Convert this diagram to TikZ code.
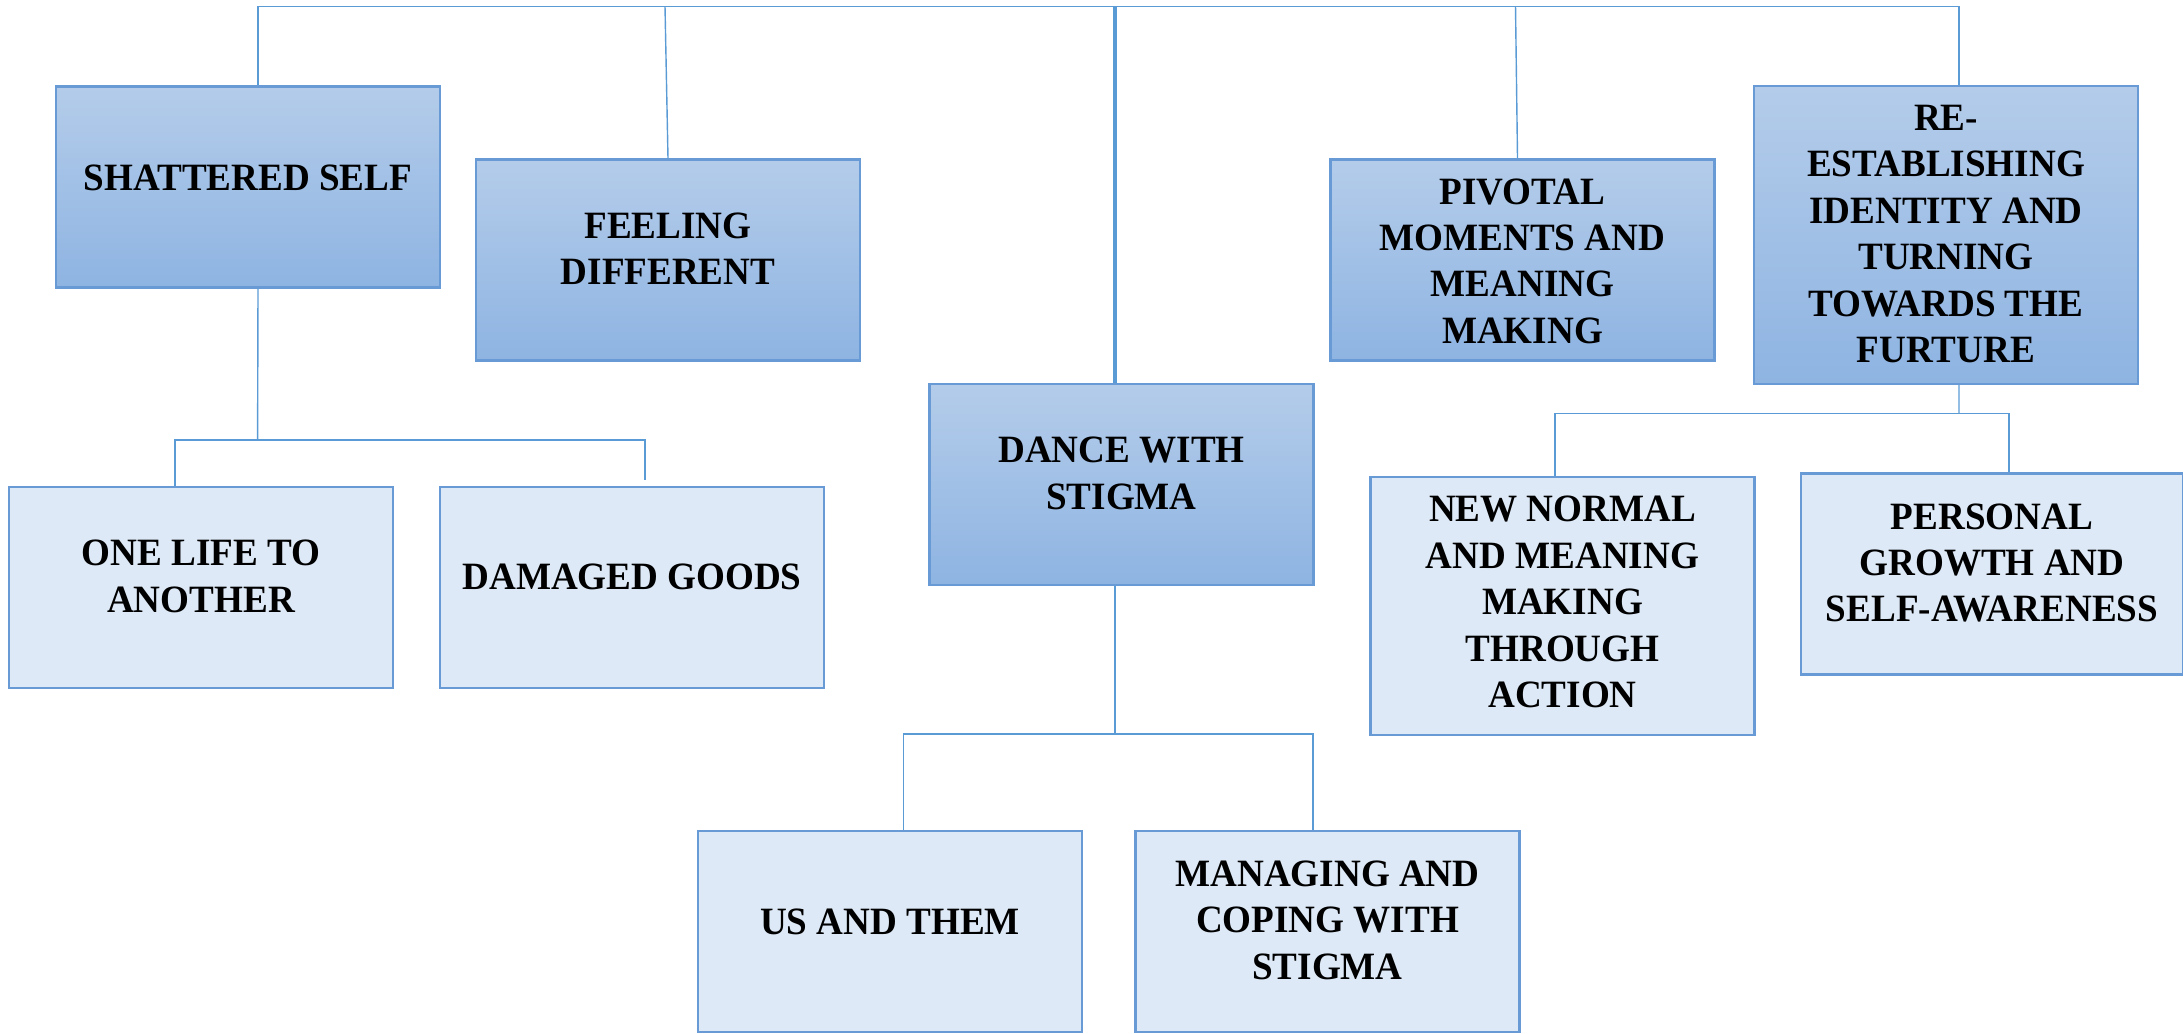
\documentclass[tikz,border=0pt]{standalone}
\usepackage{fontspec}
\setmainfont{Liberation Serif}[FakeStretch=0.96]
\definecolor{boxtop}{RGB}{180,204,234}
\definecolor{boxbot}{RGB}{142,180,226}
\definecolor{boxlight}{RGB}{221,233,246}
\definecolor{boxedge}{RGB}{104,155,214}
\definecolor{linkblue}{RGB}{91,155,213}
\begin{document}
\begin{tikzpicture}[
	darkbox/.style={draw=boxedge, line width=0.6pt, top color=boxtop, bottom color=boxbot, minimum width=3.84cm, minimum height=2.01cm, inner sep=0pt},
	lightbox/.style={draw=boxedge, line width=0.6pt, fill=boxlight, minimum width=3.84cm, minimum height=2.01cm, inner sep=0pt},
	boxtext/.style={align=center, font=\fontsize{11}{13.2}\selectfont\bfseries},
	link/.style={draw=linkblue, line width=0.4pt}
]
	\useasboundingbox (0,0) rectangle (21.83,-10.33);
	\coordinate (root) at (11.15,-0.065);
	\coordinate (ssjoin) at (2.576,-4.40);
	\coordinate (dsjoin) at (11.15,-7.34);
	\coordinate (rejoin) at (19.59,-4.135);
	% top row
	\node[darkbox] (shattered) at (2.48,-1.87) {};
	\node[boxtext] (shatteredtext) at (2.48,-1.78) {SHATTERED SELF};
	\node[darkbox] (feeling) at (6.68,-2.60) {};
	\node[boxtext] (feelingtext) at (6.68,-2.485) {FEELING\\DIFFERENT};
	\node[darkbox] (pivotal) at (15.225,-2.60) {};
	\node[boxtext] (pivotaltext) at (15.225,-2.61) {PIVOTAL\\MOMENTS AND\\MEANING\\MAKING};
	\node[darkbox, minimum height=2.98cm] (reest) at (19.46,-2.35) {};
	\node[boxtext] (reesttext) at (19.46,-2.34) {RE-\\ESTABLISHING\\IDENTITY AND\\TURNING\\TOWARDS THE\\FURTURE};
	\node[darkbox] (dance) at (11.215,-4.845) {};
	\node[boxtext] (dancetext) at (11.215,-4.733) {DANCE WITH\\STIGMA};
	% sub themes
	\node[lightbox] (life) at (2.01,-5.875) {};
	\node[boxtext] (lifetext) at (2.01,-5.764) {ONE LIFE TO\\ANOTHER};
	\node[lightbox] (damaged) at (6.32,-5.875) {};
	\node[boxtext] (damagedtext) at (6.32,-5.764) {DAMAGED GOODS};
	\node[lightbox] (us) at (8.90,-9.315) {};
	\node[boxtext] (ustext) at (8.90,-9.216) {US AND THEM};
	\node[lightbox] (managing) at (13.275,-9.315) {};
	\node[boxtext] (managingtext) at (13.275,-9.202) {MANAGING AND\\COPING WITH\\STIGMA};
	\node[lightbox, minimum height=2.575cm] (newnormal) at (15.625,-6.06) {};
	\node[boxtext] (newnormaltext) at (15.625,-6.02) {NEW NORMAL\\AND MEANING\\MAKING\\THROUGH\\ACTION};
	\node[lightbox, minimum width=3.82cm] (personal) at (19.92,-5.74) {};
	\node[boxtext] (personaltext) at (19.92,-5.63) {PERSONAL\\GROWTH AND\\SELF-AWARENESS};
	% connectors
	\draw[link] ([xshift=.1cm]shattered.north) |- (root);
	\draw[link] ([xshift=.13cm]reest.north) |- (root);
	\draw[link] (feeling.north) -- ([xshift=-.03cm]feeling.north |- root);
	\draw[link] ([xshift=-.05cm]pivotal.north) -- ([xshift=-.07cm]pivotal.north |- root);
	\draw[link, line width=1pt] (dance.north -| root) -- (root);
	\draw[link] ([xshift=.1cm]shattered.south) -- (ssjoin);
	\draw[link] ([xshift=-.26cm]life.north) |- (ssjoin) -| ([xshift=.13cm,yshift=.06cm]damaged.north);
	\draw[link] (dance.south -| dsjoin) -- (dsjoin);
	\draw[link] ([xshift=.135cm]us.north) |- (dsjoin) -| ([xshift=-.145cm]managing.north);
	\draw[link] ([xshift=.13cm]reest.south) -- (rejoin);
	\draw[link] ([xshift=-.075cm]newnormal.north) |- (rejoin) -| ([xshift=.17cm]personal.north);
\end{tikzpicture}
\end{document}
